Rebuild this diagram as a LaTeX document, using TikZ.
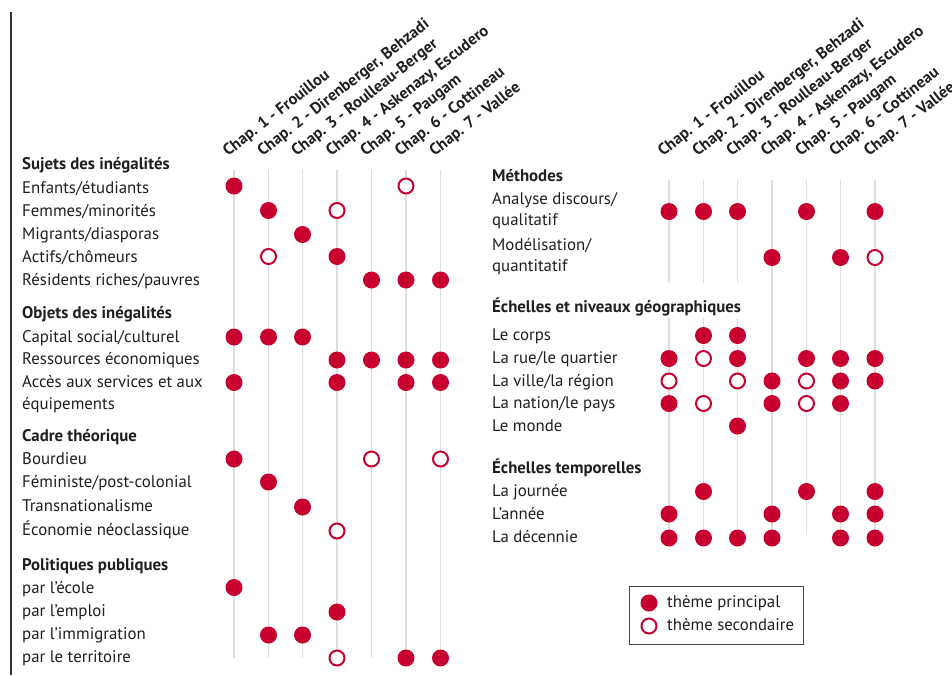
\documentclass[tikz,border=0pt]{standalone}
\usepackage{fontspec}
\setmainfont{PT Sans}
\definecolor{myred}{RGB}{200,0,48}
\colorlet{mytext}{black!88}
\colorlet{mygrid}{black!13}

\begin{document}
\begin{tikzpicture}[
    x=1pt, y=-1pt,
    every node/.style={font=\fontsize{16.8}{19}\selectfont,text=mytext,inner sep=0},
    heading/.style={anchor=base west,font=\fontsize{16.8}{19}\selectfont\bfseries},
    item/.style={anchor=base west},
    chapter/.style={anchor=base west,rotate=38,font=\fontsize{16.2}{18}\selectfont\bfseries},
    grid line/.style={draw=mygrid,line width=1.3pt},
    main dot/.style={circle,fill=myred,minimum size=17pt},
    minor dot/.style={circle,draw=myred,line width=2pt,fill=white,minimum size=15pt},
    legend box/.style={draw=black!70,line width=1pt}
]

\useasboundingbox (0,0) rectangle (952,675);
\draw [line width=1.5pt,color=black!80] (11,12) -- (11,675);

% left panel
\node [chapter] (lch1) at (228,157) {Chap. 1 - Frouillou};
\node [chapter] (lch2) at (262.5,157) {Chap. 2 - Direnberger, Behzadi};
\node [chapter] (lch3) at (296.5,157) {Chap. 3 - Roulleau-Berger};
\node [chapter] (lch4) at (331,157) {Chap. 4 - Askenazy, Escudero};
\node [chapter] (lch5) at (365.5,157) {Chap. 5 - Paugam};
\node [chapter] (lch6) at (400,157) {Chap. 6 - Cottineau};
\node [chapter] (lch7) at (434.5,157) {Chap. 7 - Vallée};

\draw [grid line] (234,170) -- (234,658);
\draw [grid line] (268.5,170) -- (268.5,658);
\draw [grid line] (302.5,170) -- (302.5,658);
\draw [grid line] (337,170) -- (337,658);
\draw [grid line] (371.5,170) -- (371.5,658);
\draw [grid line] (406,170) -- (406,658);
\draw [grid line] (440.5,170) -- (440.5,658);

\node [heading] (sujets) at (22,169) {Sujets des inégalités};
\node [item] (enfants) at (22,193) {Enfants/étudiants};
\node [item] (femmes) at (22,216) {Femmes/minorités};
\node [item] (migrants) at (22,239) {Migrants/diasporas};
\node [item] (actifs) at (22,262) {Actifs/chômeurs};
\node [item] (residents) at (22,285) {Résidents riches/pauvres};

\node [heading] (objets) at (22,318) {Objets des inégalités};
\node [item] (capital) at (22,342) {Capital social/culturel};
\node [item] (ressources) at (22,364.5) {Ressources économiques};
\node [item] (acces) at (22,387.5) {Accès aux services et aux};
\node [item] (acces2) at (22,409) {équipements};

\node [heading] (cadre) at (22,441) {Cadre théorique};
\node [item] (bourdieu) at (22,464) {Bourdieu};
\node [item] (feministe) at (22,487) {Féministe/post-colonial};
\node [item] (transnat) at (22,511.5) {Transnationalisme};
\node [item] (economie) at (22,535) {Économie néoclassique};

\node [heading] (politiques) at (22,570.5) {Politiques publiques};
\node [item] (ecole) at (22,593) {par l'école};
\node [item] (emploi) at (22,616.5) {par l'emploi};
\node [item] (immigration) at (22,639.5) {par l'immigration};
\node [item] (territoire) at (22,662) {par le territoire};

\node [main dot] (enfants-1) at (234,186) {};  \node [minor dot] (enfants-6) at (406,186) {};
\node [main dot] (femmes-2) at (268.5,210.5) {};  \node [minor dot] (femmes-4) at (337,210.5) {};
\node [main dot] (migrants-3) at (302.5,234.5) {};
\node [minor dot] (actifs-2) at (268.5,256.5) {};  \node [main dot] (actifs-4) at (337,256.5) {};
\node [main dot] (residents-5) at (371.5,280) {};  \node [main dot] (residents-6) at (406,280) {};  \node [main dot] (residents-7) at (440.5,280) {};

\node [main dot] (capital-1) at (234,337) {};  \node [main dot] (capital-2) at (268.5,337) {};  \node [main dot] (capital-3) at (302.5,337) {};
\node [main dot] (ressources-4) at (337,360) {};  \node [main dot] (ressources-5) at (371.5,360) {};  \node [main dot] (ressources-6) at (406,360) {};  \node [main dot] (ressources-7) at (440.5,360) {};
\node [main dot] (acces-1) at (234,382.5) {};  \node [main dot] (acces-4) at (337,382.5) {};  \node [main dot] (acces-6) at (406,382.5) {};  \node [main dot] (acces-7) at (440.5,382.5) {};

\node [main dot] (bourdieu-1) at (234,459) {};  \node [minor dot] (bourdieu-5) at (371.5,459) {};  \node [minor dot] (bourdieu-7) at (440.5,459) {};
\node [main dot] (feministe-2) at (268.5,482) {};
\node [main dot] (transnat-3) at (302.5,507) {};
\node [minor dot] (economie-4) at (337,531) {};

\node [main dot] (ecole-1) at (234,587.5) {};
\node [main dot] (emploi-4) at (337,612) {};
\node [main dot] (immigration-2) at (268.5,635) {};  \node [main dot] (immigration-3) at (302.5,635) {};
\node [minor dot] (territoire-4) at (337,658) {};  \node [main dot] (territoire-6) at (406,658) {};  \node [main dot] (territoire-7) at (440.5,658) {};

% right panel
\node [chapter] (rch1) at (663,157) {Chap. 1 - Frouillou};
\node [chapter] (rch2) at (697.5,157) {Chap. 2 - Direnberger, Behzadi};
\node [chapter] (rch3) at (731.5,157) {Chap. 3 - Roulleau-Berger};
\node [chapter] (rch4) at (766,157) {Chap. 4 - Askenazy, Escudero};
\node [chapter] (rch5) at (800.5,157) {Chap. 5 - Paugam};
\node [chapter] (rch6) at (834.5,157) {Chap. 6 - Cottineau};
\node [chapter] (rch7) at (869,157) {Chap. 7 - Vallée};

\draw [grid line] (669,180) -- (669,283)  (669,318) -- (669,538);
\draw [grid line] (703.5,180) -- (703.5,283)  (703.5,318) -- (703.5,538);
\draw [grid line] (737.5,180) -- (737.5,283)  (737.5,318) -- (737.5,538);
\draw [grid line] (772,180) -- (772,538);
\draw [grid line] (806.5,180) -- (806.5,535);
\draw [grid line] (840.5,180) -- (840.5,538);
\draw [grid line] (875,180) -- (875,538);

\node [heading] (methodes) at (492,181) {Méthodes};
\node [item] (analyse) at (492,204.5) {Analyse discours/};
\node [item] (analyse2) at (492,225) {qualitatif};
\node [item] (modelisation) at (492,250) {Modélisation/};
\node [item] (modelisation2) at (492,271) {quantitatif};

\node [heading] (geo) at (492,312.5) {Échelles et niveaux géographiques};
\node [item] (corps) at (492,340) {Le corps};
\node [item] (rue) at (492,363) {La rue/le quartier};
\node [item] (ville) at (492,386) {La ville/la région};
\node [item] (nation) at (492,408.5) {La nation/le pays};
\node [item] (monde) at (492,431.5) {Le monde};

\node [heading] (temps) at (492,473.5) {Échelles temporelles};
\node [item] (journee) at (492,496.5) {La journée};
\node [item] (annee) at (492,519.5) {L'année};
\node [item] (decennie) at (492,542) {La décennie};

\node [main dot] (analyse-1) at (669,211.5) {};  \node [main dot] (analyse-2) at (703.5,211.5) {};  \node [main dot] (analyse-3) at (737.5,211.5) {};  \node [main dot] (analyse-5) at (806.5,211.5) {};  \node [main dot] (analyse-7) at (875,211.5) {};
\node [main dot] (modelisation-4) at (772,257.5) {};  \node [main dot] (modelisation-6) at (840.5,257.5) {};  \node [minor dot] (modelisation-7) at (875,257.5) {};

\node [main dot] (corps-2) at (703.5,335.5) {};  \node [main dot] (corps-3) at (737.5,335.5) {};
\node [main dot] (rue-1) at (669,358.5) {};  \node [minor dot] (rue-2) at (703.5,358.5) {};  \node [main dot] (rue-3) at (737.5,358.5) {};  \node [main dot] (rue-5) at (806.5,358.5) {};  \node [main dot] (rue-6) at (840.5,358.5) {};  \node [main dot] (rue-7) at (875,358.5) {};
\node [minor dot] (ville-1) at (669,381) {};  \node [minor dot] (ville-3) at (737.5,381) {};  \node [main dot] (ville-4) at (772,381) {};  \node [minor dot] (ville-5) at (806.5,381) {};  \node [main dot] (ville-6) at (840.5,381) {};  \node [main dot] (ville-7) at (875,381) {};
\node [main dot] (nation-1) at (669,403.5) {};  \node [minor dot] (nation-2) at (703.5,403.5) {};  \node [main dot] (nation-4) at (772,403.5) {};  \node [minor dot] (nation-5) at (806.5,403.5) {};  \node [main dot] (nation-6) at (840.5,403.5) {};
\node [main dot] (monde-3) at (737.5,426) {};

\node [main dot] (journee-2) at (703.5,491.5) {};  \node [main dot] (journee-5) at (806.5,491.5) {};  \node [main dot] (journee-7) at (875,491.5) {};
\node [main dot] (annee-1) at (669,514) {};  \node [main dot] (annee-4) at (772,514) {};  \node [main dot] (annee-6) at (840.5,514) {};  \node [main dot] (annee-7) at (875,514) {};
\node [main dot] (decennie-1) at (669,538) {};  \node [main dot] (decennie-2) at (703.5,538) {};  \node [main dot] (decennie-3) at (737.5,538) {};  \node [main dot] (decennie-4) at (772,538) {};  \node [main dot] (decennie-6) at (840.5,538) {};  \node [main dot] (decennie-7) at (875,538) {};

% legend
\draw [legend box] (629,586) rectangle (803,644);
\node [main dot] (key-main) at (649,603) {};
\node [item] (key-main-text) at (667,607) {thème principal};
\node [minor dot] (key-minor) at (649,626) {};
\node [item] (key-minor-text) at (667,630) {thème secondaire};

\end{tikzpicture}
\end{document}
